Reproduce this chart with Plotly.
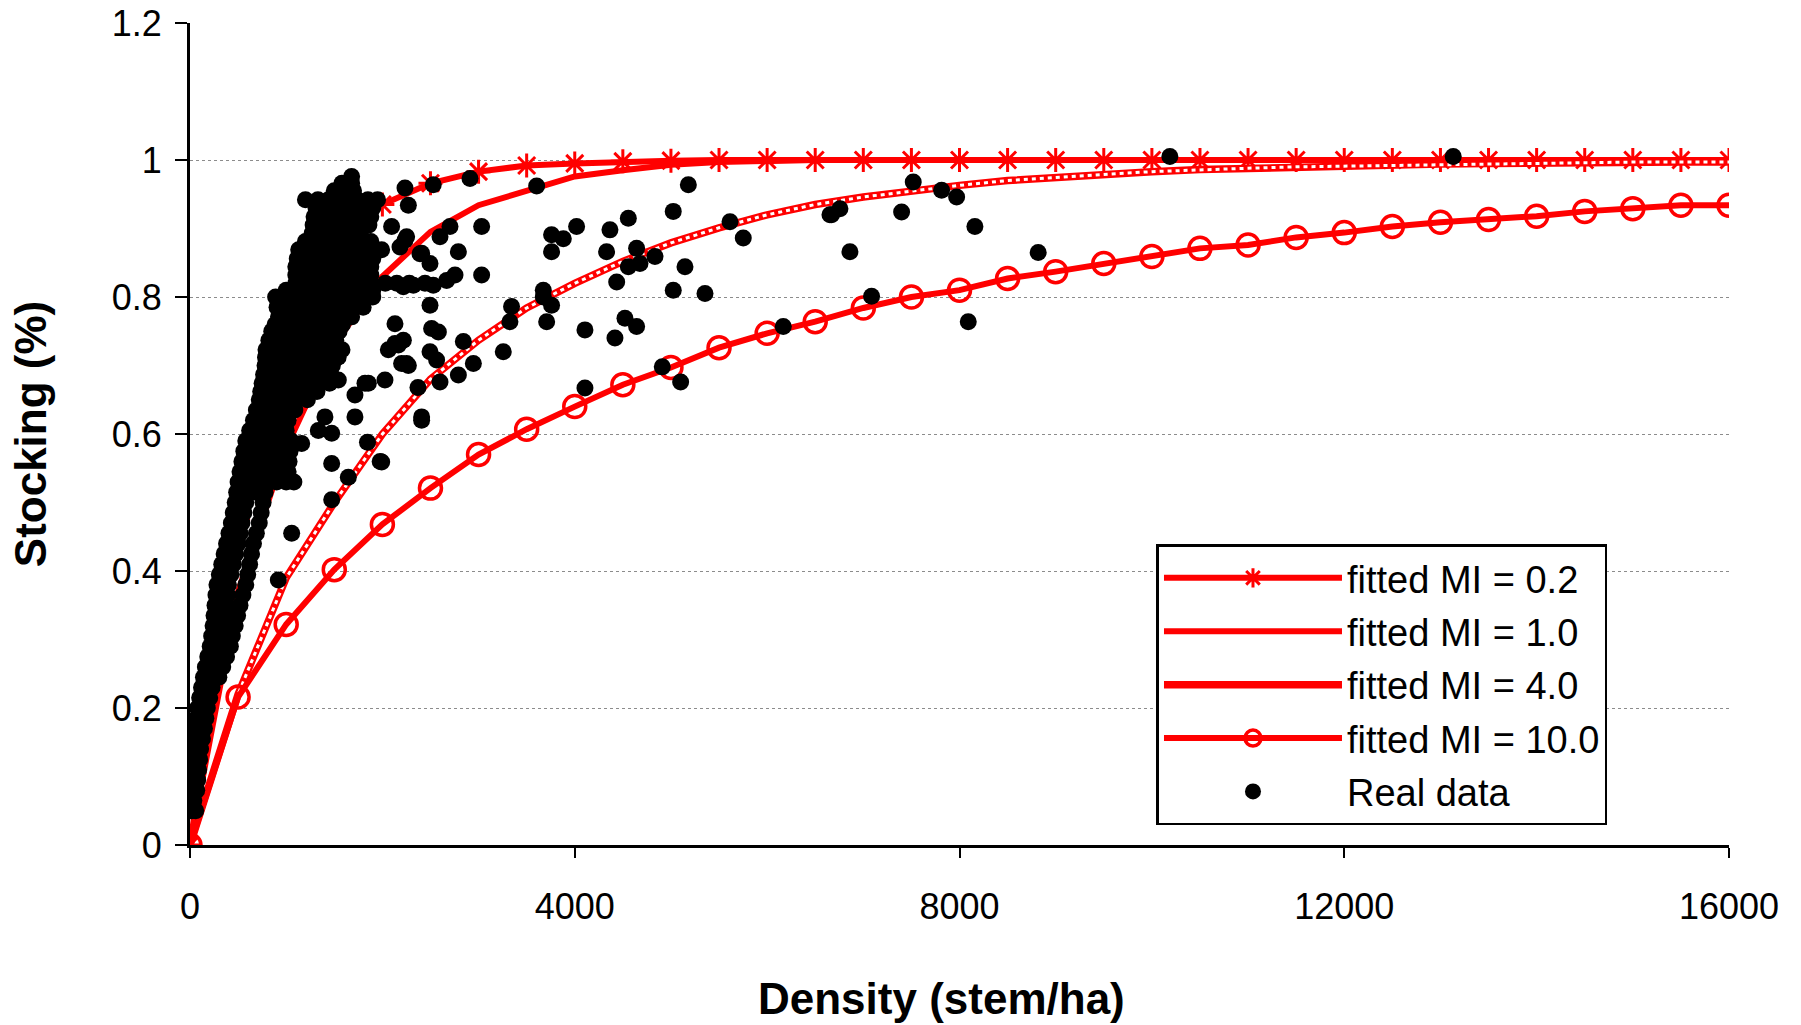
import plotly.graph_objects as go

# ---- fitted curves (density grid in stem/ha) ----
density_fit = [0, 500, 1000, 1500, 2000, 2500, 3000, 3500, 4000, 4500, 5000,
               5500, 6000, 6500, 7000, 7500, 8000, 8500, 9000, 9500, 10000,
               10500, 11000, 11500, 12000, 12500, 13000, 13500, 14000, 14500,
               15000, 15500, 16000]

mi_02 = [0, 0.475, 0.74, 0.87, 0.935, 0.966, 0.983, 0.992, 0.995, 0.998, 0.999,
         1.0, 1.0, 1.0, 1.0, 1.0, 1.0, 1.0, 1.0, 1.0, 1.0,
         1.0, 1.0, 1.0, 1.0, 1.0, 1.0, 1.0, 1.0, 1.0, 1.0, 1.0, 1.0]

mi_10 = [0, 0.37, 0.58, 0.73, 0.83, 0.895, 0.934, 0.955, 0.976, 0.985, 0.993,
         0.997, 0.999, 1.0, 1.0, 1.0, 1.0, 1.0, 1.0, 1.0, 1.0,
         1.0, 1.0, 1.0, 1.0, 1.0, 1.0, 1.0, 1.0, 1.0, 1.0, 1.0, 1.0]

mi_40 = [0, 0.22, 0.39, 0.50, 0.60, 0.68, 0.737, 0.784, 0.82, 0.852, 0.879,
         0.901, 0.92, 0.935, 0.946, 0.955, 0.963, 0.97, 0.975, 0.979, 0.983,
         0.986, 0.988, 0.99, 0.991, 0.993, 0.994, 0.995, 0.996, 0.996,
         0.997, 0.997, 0.997]

mi_100 = [0, 0.216, 0.322, 0.402, 0.468, 0.521, 0.570, 0.607, 0.640, 0.672, 0.697,
          0.726, 0.747, 0.764, 0.784, 0.800, 0.810, 0.827, 0.837, 0.849, 0.859,
          0.871, 0.876, 0.887, 0.894, 0.903, 0.909, 0.913, 0.918, 0.925,
          0.929, 0.934, 0.934]

# ---- observed plots: dense core (low densities) ----
core_density = [
    20, 60,
    40,
    20, 70,
    30, 80,
    30, 90,
    50, 100,
    40, 110,
    50, 130,
    60, 150,
    70, 165,
    80, 180,
    100, 205,
    120, 230,
    140, 245, 300,
    160, 260, 340,
    185, 280, 380,
    210, 300, 420,
    225, 320, 440,
    240, 340, 470,
    250, 360, 495,
    260, 380, 520,
    270, 390, 550,
    280, 400, 580,
    305, 425, 600,
    330, 450, 620,
    355, 475, 640,
    380, 500, 660,
    405, 520, 690,
    430, 540, 720,
    450, 560, 740,
    470, 580, 760,
    485, 590, 690, 780,
    500, 600, 700, 800, 900, 1000, 1080,
    520, 620, 720, 820, 920, 1020,
    540, 640, 740, 840, 940, 1030,
    560, 660, 760, 860, 960, 1040,
    580, 680, 780, 880, 980, 1050,
    620, 720, 820, 920, 1000,
    660, 760, 860, 960, 1020,
    690, 790, 890, 990, 1090,
    720, 820, 920, 1020, 1120, 1220,
    735, 835, 935, 1035, 1135, 1235, 1320,
    750, 850, 950, 1050, 1150, 1250, 1350, 1450,
    765, 865, 965, 1065, 1165, 1265, 1365, 1465,
    780, 880, 980, 1080, 1180, 1280, 1380, 1480,
    785, 885, 985, 1085, 1185, 1285, 1385, 1480, 1540,
    790, 890, 990, 1090, 1190, 1290, 1390, 1480, 1580,
    820, 920, 1020, 1120, 1220, 1320, 1420, 1515,
    850, 950, 1050, 1150, 1250, 1350, 1450, 1550,
    885, 985, 1085, 1185, 1285, 1385, 1485, 1585,
    920, 1020, 1120, 1220, 1320, 1420, 1520, 1620, 1680,
    905, 1005, 1105, 1205, 1305, 1405, 1505, 1605, 1705, 1800,
    890, 990, 1090, 1190, 1290, 1390, 1490, 1590, 1690, 1790, 1900,
    1000, 1100, 1200, 1300, 1400, 1500, 1600, 1700, 1800, 1900,
    1100, 1200, 1300, 1400, 1500, 1600, 1700, 1800, 1880,
    1100, 1200, 1300, 1400, 1500, 1600, 1700, 1800, 1880,
    1100, 1200, 1300, 1400, 1500, 1600, 1700, 1800, 1880,
    1115, 1215, 1315, 1415, 1515, 1615, 1715, 1815, 1900,
    1130, 1230, 1330, 1430, 1530, 1630, 1730, 1830, 1930,
    1200, 1300, 1400, 1500, 1600, 1700, 1800, 1880,
    1270, 1370, 1470, 1570, 1670, 1770,
    1280, 1380, 1480, 1580, 1680, 1780, 1860,
    1290, 1390, 1490, 1590, 1690, 1790, 1880,
    1310, 1410, 1510, 1610, 1710, 1810, 1900,
    1200, 1330, 1440, 1540, 1640, 1740, 1850, 1950,
    1500, 1600, 1700,
    1580, 1680,
    1680,
]
core_stocking = [
    0.05, 0.05,
    0.065,
    0.08, 0.08,
    0.095, 0.095,
    0.11, 0.11,
    0.125, 0.125,
    0.14, 0.14,
    0.155, 0.155,
    0.17, 0.17,
    0.185, 0.185,
    0.20, 0.20,
    0.215, 0.215,
    0.23, 0.23,
    0.245, 0.245, 0.245,
    0.26, 0.26, 0.26,
    0.275, 0.275, 0.275,
    0.29, 0.29, 0.29,
    0.305, 0.305, 0.305,
    0.32, 0.32, 0.32,
    0.335, 0.335, 0.335,
    0.35, 0.35, 0.35,
    0.365, 0.365, 0.365,
    0.38, 0.38, 0.38,
    0.395, 0.395, 0.395,
    0.41, 0.41, 0.41,
    0.425, 0.425, 0.425,
    0.44, 0.44, 0.44,
    0.455, 0.455, 0.455,
    0.47, 0.47, 0.47,
    0.485, 0.485, 0.485,
    0.50, 0.50, 0.50,
    0.515, 0.515, 0.515, 0.515,
    0.53, 0.53, 0.53, 0.53, 0.53, 0.53, 0.53,
    0.545, 0.545, 0.545, 0.545, 0.545, 0.545,
    0.56, 0.56, 0.56, 0.56, 0.56, 0.56,
    0.575, 0.575, 0.575, 0.575, 0.575, 0.575,
    0.59, 0.59, 0.59, 0.59, 0.59, 0.59,
    0.605, 0.605, 0.605, 0.605, 0.605,
    0.62, 0.62, 0.62, 0.62, 0.62,
    0.635, 0.635, 0.635, 0.635, 0.635,
    0.65, 0.65, 0.65, 0.65, 0.65, 0.65,
    0.662, 0.662, 0.662, 0.662, 0.662, 0.662, 0.662,
    0.674, 0.674, 0.674, 0.674, 0.674, 0.674, 0.674, 0.674,
    0.687, 0.687, 0.687, 0.687, 0.687, 0.687, 0.687, 0.687,
    0.70, 0.70, 0.70, 0.70, 0.70, 0.70, 0.70, 0.70,
    0.712, 0.712, 0.712, 0.712, 0.712, 0.712, 0.712, 0.712, 0.712,
    0.723, 0.723, 0.723, 0.723, 0.723, 0.723, 0.723, 0.723, 0.723,
    0.737, 0.737, 0.737, 0.737, 0.737, 0.737, 0.737, 0.737,
    0.75, 0.75, 0.75, 0.75, 0.75, 0.75, 0.75, 0.75,
    0.76, 0.76, 0.76, 0.76, 0.76, 0.76, 0.76, 0.76,
    0.771, 0.771, 0.771, 0.771, 0.771, 0.771, 0.771, 0.771, 0.771,
    0.785, 0.785, 0.785, 0.785, 0.785, 0.785, 0.785, 0.785, 0.785, 0.785,
    0.80, 0.80, 0.80, 0.80, 0.80, 0.80, 0.80, 0.80, 0.80, 0.80, 0.80,
    0.81, 0.81, 0.81, 0.81, 0.81, 0.81, 0.81, 0.81, 0.81, 0.81,
    0.82, 0.82, 0.82, 0.82, 0.82, 0.82, 0.82, 0.82, 0.82,
    0.832, 0.832, 0.832, 0.832, 0.832, 0.832, 0.832, 0.832, 0.832,
    0.844, 0.844, 0.844, 0.844, 0.844, 0.844, 0.844, 0.844, 0.844,
    0.856, 0.856, 0.856, 0.856, 0.856, 0.856, 0.856, 0.856, 0.856,
    0.869, 0.869, 0.869, 0.869, 0.869, 0.869, 0.869, 0.869, 0.869,
    0.881, 0.881, 0.881, 0.881, 0.881, 0.881, 0.881, 0.881,
    0.893, 0.893, 0.893, 0.893, 0.893, 0.893,
    0.905, 0.905, 0.905, 0.905, 0.905, 0.905, 0.905,
    0.917, 0.917, 0.917, 0.917, 0.917, 0.917, 0.917,
    0.93, 0.93, 0.93, 0.93, 0.93, 0.93, 0.93,
    0.942, 0.942, 0.942, 0.942, 0.942, 0.942, 0.942, 0.942,
    0.955, 0.955, 0.955,
    0.966, 0.966,
    0.976,
]

# ---- observed plots: scattered points ----
outer_density = [
    2235, 2270, 2096, 2235, 2408, 2443, 2131, 2131, 2200, 2027, 1819, 1715,
    1542, 1403, 1473, 1715, 1334, 1161, 1473, 1993, 1646, 2408, 2512, 2062,
    2166, 2270, 1854, 2030, 2150, 2280, 1992, 1057, 918, 1473,
    2529, 2911, 3604, 5181, 5024, 3032, 2703, 2599, 2252, 2183, 2391, 2495,
    2790, 3759, 3881, 4019, 4366, 4557, 3759, 4331, 4643, 4834, 4678, 4557,
    4436, 5146, 3032, 2755, 2668, 2529, 2322, 2218, 2495, 3673, 3673, 3759,
    3343, 3326, 3708, 5024, 5354, 5614, 5752, 6653, 6757, 6861, 2582, 2842,
    2218, 2495, 2564, 2252, 3257, 2946, 2790, 2599, 4106, 4418, 4522, 4643,
    4910, 5101, 4106, 6168, 2408,
    6670, 7086, 7398, 7519, 7814, 7970, 8160, 8091, 8818, 10187, 13133,
    1977, 1845, 2370,
]
outer_stocking = [
    0.959, 0.934, 0.903, 0.883, 0.864, 0.82, 0.761, 0.732, 0.703, 0.679, 0.674, 0.657,
    0.679, 0.625, 0.601, 0.625, 0.605, 0.586, 0.557, 0.559, 0.537, 0.625, 0.754, 0.723,
    0.73, 0.70, 0.674, 0.82, 0.82, 0.82, 0.869, 0.455, 0.387, 0.504,
    0.964, 0.973, 0.962, 0.964, 0.925, 0.903, 0.903, 0.888, 0.888, 0.873, 0.863, 0.849,
    0.866, 0.891, 0.885, 0.903, 0.898, 0.915, 0.866, 0.866, 0.871, 0.859, 0.849, 0.844,
    0.822, 0.844, 0.832, 0.832, 0.824, 0.817, 0.817, 0.815, 0.788, 0.81, 0.80, 0.788,
    0.786, 0.764, 0.764, 0.81, 0.805, 0.91, 0.886, 0.92, 0.929, 0.866, 0.749, 0.735,
    0.737, 0.72, 0.708, 0.703, 0.72, 0.703, 0.686, 0.676, 0.752, 0.74, 0.769, 0.757,
    0.698, 0.676, 0.667, 0.757, 0.62,
    0.92, 0.801, 0.924, 0.968, 0.956, 0.946, 0.903, 0.764, 0.865, 1.005, 1.005,
    0.56, 0.588, 0.668,
]

real_density = core_density + outer_density
real_stocking = core_stocking + outer_stocking

x_ticks = [0, 4000, 8000, 12000, 16000]
y_ticks = [0, 0.2, 0.4, 0.6, 0.8, 1.0, 1.2]

RED = "#ff0000"
FONT = "Liberation Sans, Arial, sans-serif"

fig = go.Figure()

fig.add_trace(go.Scatter(
    x=density_fit, y=mi_02, name="fitted MI = 0.2", mode="lines+markers",
    line=dict(color=RED, width=6),
    marker=dict(symbol="asterisk-open", size=20, color=RED,
                line=dict(color=RED, width=3)),
    legendgroup="a"))
fig.add_trace(go.Scatter(
    x=density_fit, y=mi_10, name="fitted MI = 1.0", mode="lines",
    line=dict(color=RED, width=6), legendgroup="b"))
fig.add_trace(go.Scatter(
    x=density_fit, y=mi_40, name="fitted MI = 4.0", mode="lines",
    line=dict(color=RED, width=7.5), legendgroup="c"))
fig.add_trace(go.Scatter(
    x=density_fit, y=mi_40, name="fitted MI = 4.0", mode="lines",
    line=dict(color="white", width=3, dash="4px,4px"),
    showlegend=False, hoverinfo="skip", legendgroup="c"))
fig.add_trace(go.Scatter(
    x=density_fit, y=mi_100, name="fitted MI = 10.0", mode="lines+markers",
    line=dict(color=RED, width=6),
    marker=dict(symbol="circle-open", size=22, color=RED,
                line=dict(color=RED, width=3.5)),
    legendgroup="d"))
fig.add_trace(go.Scatter(
    x=real_density, y=real_stocking, name="Real data", mode="markers",
    marker=dict(symbol="circle", size=17, color="black"),
    legendgroup="e"))

fig.update_layout(
    width=1801, height=1025,
    margin=dict(l=190, r=72, t=23, b=180),
    paper_bgcolor="white", plot_bgcolor="white",
    font=dict(family=FONT, size=35, color="black"),
    showlegend=True,
    legend=dict(
        x=0.628, y=0.366, xanchor="left", yanchor="top",
        bgcolor="white", bordercolor="black", borderwidth=2.5,
        font=dict(family=FONT, size=38, color="black"),
        tracegroupgap=1, itemwidth=178,
    ),
    annotations=[dict(
        text="Density (stem/ha)", xref="paper", yref="paper",
        x=0.4886, y=-0.187, xanchor="center", yanchor="middle",
        showarrow=False,
        font=dict(family=FONT, size=44, color="black", weight="bold"),
    )],
)

fig.update_xaxes(
    range=[0, 16000], tickvals=x_ticks, ticktext=[str(v) for v in x_ticks],
    ticks="outside", ticklen=10, tickwidth=2, tickcolor="black",
    showline=True, linecolor="black", linewidth=3,
    showgrid=False, zeroline=False, ticklabelstandoff=18, automargin=False,
    tickfont=dict(family=FONT, size=36, color="black"),
)
fig.update_yaxes(
    range=[0, 1.2], tickvals=y_ticks,
    ticks="outside", ticklen=12, tickwidth=2, tickcolor="black",
    showline=True, linecolor="black", linewidth=3,
    showgrid=True, gridcolor="#8c8c8c", gridwidth=1, griddash="dot",
    zeroline=False, ticklabelstandoff=6, automargin=False,
    tickfont=dict(family=FONT, size=36, color="black"),
    title=dict(text="Stocking (%)", standoff=52,
               font=dict(family=FONT, size=44, color="black", weight="bold")),
)

fig.write_html("out.html")
